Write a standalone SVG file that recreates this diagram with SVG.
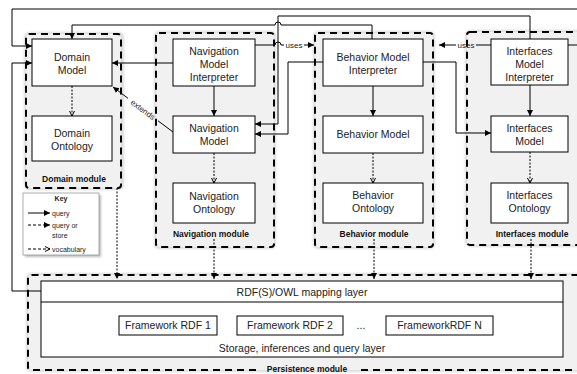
<svg xmlns="http://www.w3.org/2000/svg" width="577" height="374" viewBox="0 0 577 374">
<style>
.bg{fill:#f1f1f1}
.mod{fill:none;stroke:#000;stroke-width:2;stroke-dasharray:7 5}
.box{fill:#fff;stroke:#000;stroke-width:1}
.t{font-family:"Liberation Sans",Arial,sans-serif;font-size:10.5px;text-anchor:middle;fill:#222}
.ml{font-family:"Liberation Sans",Arial,sans-serif;font-size:8.5px;font-weight:bold;text-anchor:middle;fill:#111}
.s{font-family:"Liberation Sans",Arial,sans-serif;font-size:8px;fill:#222}
.k{font-family:"Liberation Sans",Arial,sans-serif;font-size:7px;fill:#222}
.ln{fill:none;stroke:#000;stroke-width:1}
.dot{fill:none;stroke:#000;stroke-width:1;stroke-dasharray:2 1.5}
.dsh{fill:none;stroke:#000;stroke-width:1;stroke-dasharray:3 2}
</style>
<defs>
<marker id="a" markerUnits="userSpaceOnUse" markerWidth="7" markerHeight="7" refX="6" refY="3" orient="auto"><path d="M0,0 L6,3 L0,6 z" fill="#000"/></marker>
<marker id="v" markerUnits="userSpaceOnUse" markerWidth="7" markerHeight="7" refX="5.5" refY="3" orient="auto"><path d="M0.5,0.5 L5.5,3 L0.5,5.5" fill="none" stroke="#000" stroke-width="1"/></marker>
<filter id="sh" x="-10%" y="-10%" width="130%" height="130%"><feGaussianBlur stdDeviation="1.2"/></filter>
</defs>

<!-- module backgrounds -->
<g id="domain-module">
<rect x="24" y="32" width="100" height="158" rx="5" fill="#ddd" filter="url(#sh)"/>
<rect x="26" y="34" width="95" height="154" rx="4" class="bg"/>
<rect x="26" y="34" width="95" height="154" rx="3" class="mod"/>
<text x="74" y="182" class="ml">Domain module</text>
</g>
<g id="navigation-module">
<rect x="154" y="31" width="122" height="218" rx="5" fill="#ddd" filter="url(#sh)"/>
<rect x="156" y="33" width="118" height="214" rx="4" class="bg"/>
<rect x="156" y="33" width="118" height="214" rx="3" class="mod"/>
<text x="211" y="237" class="ml">Navigation module</text>
</g>
<g id="behavior-module">
<rect x="313" y="31" width="122" height="218" rx="5" fill="#ddd" filter="url(#sh)"/>
<rect x="315" y="33" width="118" height="214" rx="4" class="bg"/>
<rect x="315" y="33" width="118" height="214" rx="3" class="mod"/>
<text x="374" y="237" class="ml">Behavior module</text>
</g>
<g id="interfaces-module">
<rect x="465" y="30" width="130" height="217" rx="5" fill="#ddd" filter="url(#sh)"/>
<rect x="467" y="32" width="128" height="213" rx="4" class="bg"/>
<rect x="467" y="32" width="128" height="213" rx="3" class="mod"/>
<text x="532" y="237" class="ml">Interfaces module</text>
</g>
<g id="persistence-module">
<rect x="26" y="273" width="570" height="99" rx="5" fill="#ddd" filter="url(#sh)"/>
<rect x="28" y="275" width="568" height="95" rx="4" class="bg"/>
<path d="M256,370 L31,370 Q28,370 28,367 L28,278 Q28,275 31,275 L596,275 M596,370 L358,370" class="mod"/>
<text x="307" y="372" class="ml">Persistence module</text>
<rect x="41" y="281" width="522" height="76" class="box"/>
<line x1="41" y1="302" x2="563" y2="302" class="ln"/>
<text x="302" y="296" class="t">RDF(S)/OWL mapping layer</text>
<text x="302" y="352" class="t">Storage, inferences and query layer</text>
</g>
<g id="fw1"><rect x="119" y="316" width="98" height="19" class="box"/><text x="168" y="329" class="t">Framework RDF 1</text></g>
<g id="fw2"><rect x="237" y="316" width="106" height="19" class="box"/><text x="290" y="329" class="t">Framework RDF 2</text></g>
<g id="dots"><text x="361" y="329" class="t">...</text></g>
<g id="fwn"><rect x="386" y="316" width="107" height="19" class="box"/><text x="439.5" y="329" class="t">FrameworkRDF N</text></g>

<!-- nodes -->
<g id="domain-model"><rect x="32" y="39" width="80" height="47" class="box"/><text x="72" y="61" class="t">Domain</text><text x="72" y="74" class="t">Model</text></g>
<g id="domain-ontology"><rect x="32" y="116" width="80" height="45" class="box"/><text x="72" y="137" class="t">Domain</text><text x="72" y="150" class="t">Ontology</text></g>
<g id="nav-interpreter"><rect x="173" y="39" width="82" height="47" class="box"/><text x="214" y="55" class="t">Navigation</text><text x="214" y="68" class="t">Model</text><text x="214" y="81" class="t">Interpreter</text></g>
<g id="nav-model"><rect x="173" y="116" width="82" height="37" class="box"/><text x="214" y="132" class="t">Navigation</text><text x="214" y="145" class="t">Model</text></g>
<g id="nav-ontology"><rect x="173" y="183" width="82" height="40" class="box"/><text x="214" y="200" class="t">Navigation</text><text x="214" y="213" class="t">Ontology</text></g>
<g id="beh-interpreter"><rect x="323" y="39" width="100" height="47" class="box"/><text x="373" y="61" class="t">Behavior Model</text><text x="373" y="74" class="t">Interpreter</text></g>
<g id="beh-model"><rect x="323" y="116" width="100" height="37" class="box"/><text x="373" y="138" class="t">Behavior Model</text></g>
<g id="beh-ontology"><rect x="323" y="183" width="100" height="40" class="box"/><text x="373" y="199" class="t">Behavior</text><text x="373" y="212" class="t">Ontology</text></g>
<g id="int-interpreter"><rect x="491" y="39" width="77" height="46" class="box"/><text x="529.5" y="55" class="t">Interfaces</text><text x="529.5" y="68" class="t">Model</text><text x="529.5" y="81" class="t">Interpreter</text></g>
<g id="int-model"><rect x="491" y="116" width="77" height="36" class="box"/><text x="529.5" y="132" class="t">Interfaces</text><text x="529.5" y="145" class="t">Model</text></g>
<g id="int-ontology"><rect x="491" y="183" width="77" height="40" class="box"/><text x="529.5" y="199" class="t">Interfaces</text><text x="529.5" y="212" class="t">Ontology</text></g>

<!-- key -->
<g id="key">
<rect x="25" y="195" width="76" height="62" fill="#bbb" filter="url(#sh)"/>
<rect x="23" y="193" width="76" height="62" fill="#fff" stroke="#999" stroke-width="0.8"/>
<text x="61" y="201" class="k" font-weight="bold" text-anchor="middle">Key</text>
<line x1="28" y1="213" x2="50" y2="213" class="ln" marker-end="url(#a)"/>
<text x="52" y="215.5" class="k">query</text>
<line x1="28" y1="225" x2="50" y2="225" class="dsh" marker-end="url(#a)"/>
<text x="52" y="227.5" class="k">query or</text>
<text x="52" y="237.5" class="k">store</text>
<line x1="28" y1="249" x2="50" y2="249" class="dsh" marker-end="url(#v)"/>
<text x="52" y="251.5" class="k">vocabulary</text>
</g>

<!-- connectors -->
<g id="connectors">
<path d="M577,9 L12,9 L12,46 L32,46" class="ln" marker-end="url(#a)"/>
<path d="M41,291 L12,291 L12,63 L32,63" class="ln" marker-end="url(#a)"/>
<path d="M372,39 L372,25 L281,25 A3,3 0 0 0 275,25 L72,25 L72,39" class="ln" marker-end="url(#a)"/>
<path d="M530,39 L530,16 L278,16 L278,124 L255,124" class="ln" marker-end="url(#a)"/>
<path d="M323,62 L288,62 L288,134 L255,134" class="ln" marker-end="url(#a)"/>
<path d="M173,63 L112,63" class="ln" marker-end="url(#a)"/>
<path d="M423,62 L456,62 L456,133 L491,133" class="ln" marker-end="url(#a)"/>
<path d="M568,45 L577,45" class="ln"/>
<!-- uses -->
<path d="M255,45 L275,45 A3,3 0 0 1 281,45 L284,45" class="ln"/>
<text x="294" y="48" class="s" text-anchor="middle">uses</text>
<path d="M304,45 L314,45" class="ln" marker-end="url(#a)"/>
<path d="M491,45 L476,45" class="ln"/>
<text x="466" y="48" class="s" text-anchor="middle">uses</text>
<path d="M456,45 L439,45" class="ln" marker-end="url(#a)"/>
<!-- extends -->
<path d="M173,132 L158,120.8" class="ln"/>
<path d="M128,98.3 L113,87" class="ln" marker-end="url(#a)"/>
<text x="143" y="109.5" class="s" text-anchor="middle" dy="3" transform="rotate(37 143 109.5)">extends</text>
<!-- internal -->
<path d="M214,86 L214,116" class="ln" marker-end="url(#a)"/>
<path d="M373,86 L373,116" class="ln" marker-end="url(#a)"/>
<path d="M530,85 L530,116" class="ln" marker-end="url(#a)"/>
<path d="M72,86 L72,116" class="dot" marker-end="url(#v)"/>
<path d="M214,153 L214,183" class="dot" marker-end="url(#v)"/>
<path d="M373,153 L373,183" class="dot" marker-end="url(#v)"/>
<path d="M530,152 L530,183" class="dot" marker-end="url(#v)"/>
<!-- to persistence -->
<path d="M117,188 L117,279" class="dot" marker-end="url(#a)"/>
<path d="M214,239 L214,279" class="dot" marker-end="url(#a)"/>
<path d="M374,239 L374,279" class="dot" marker-end="url(#a)"/>
<path d="M531,239 L531,279" class="dot" marker-end="url(#a)"/>
</g>
</svg>
